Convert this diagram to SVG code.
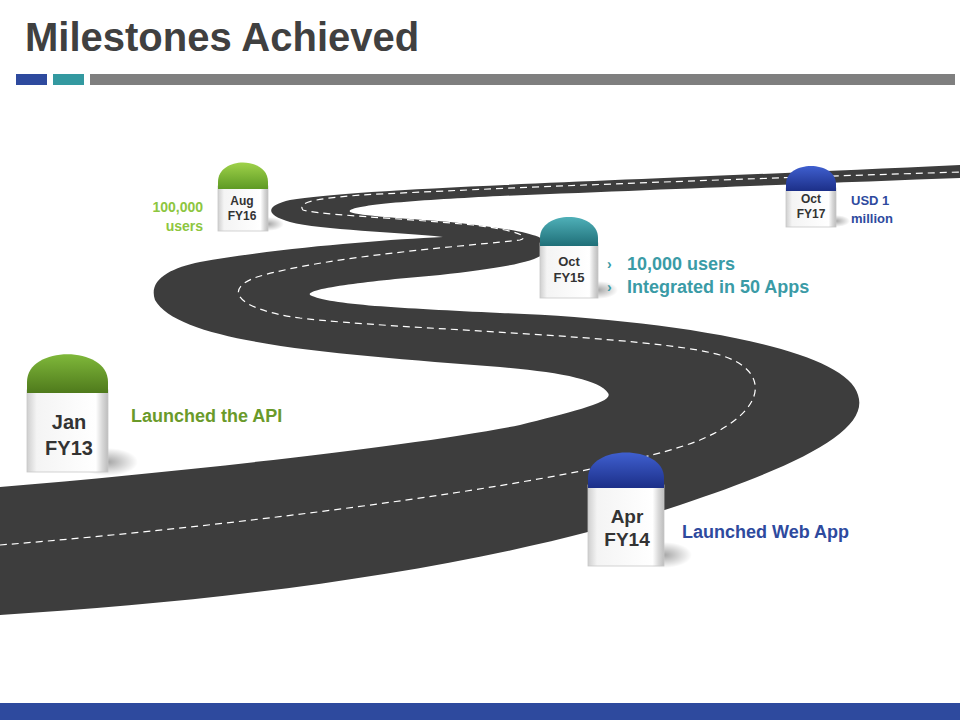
<svg xmlns="http://www.w3.org/2000/svg" width="960" height="720" viewBox="0 0 960 720">
<defs>
<linearGradient id="body" x1="0" y1="0" x2="1" y2="0">
<stop offset="0" stop-color="#cfcfcf"/><stop offset="0.12" stop-color="#f4f4f4"/><stop offset="0.85" stop-color="#ffffff"/><stop offset="0.93" stop-color="#d8d8d8"/><stop offset="1" stop-color="#bdbdbd"/>
</linearGradient>
<linearGradient id="bodyv" x1="0" y1="0" x2="0" y2="1">
<stop offset="0" stop-color="#fff" stop-opacity="0"/><stop offset="1" stop-color="#ccc" stop-opacity="0.5"/>
</linearGradient>
<linearGradient id="green" x1="0" y1="0" x2="0" y2="1"><stop offset="0" stop-color="#7fb83a"/><stop offset="1" stop-color="#4f7a1c"/></linearGradient>
<linearGradient id="lgreen" x1="0" y1="0" x2="0" y2="1"><stop offset="0" stop-color="#9fd24a"/><stop offset="1" stop-color="#5e9a24"/></linearGradient>
<linearGradient id="teal" x1="0" y1="0" x2="0" y2="1"><stop offset="0" stop-color="#4fb0b8"/><stop offset="1" stop-color="#1f6f78"/></linearGradient>
<linearGradient id="blue" x1="0" y1="0" x2="0" y2="1"><stop offset="0" stop-color="#3f5fcf"/><stop offset="1" stop-color="#1c2f88"/></linearGradient>
<radialGradient id="shadow"><stop offset="0" stop-color="#000" stop-opacity="0.35"/><stop offset="1" stop-color="#000" stop-opacity="0"/></radialGradient>
</defs>
<style>
.t{font-family:"Liberation Sans",Arial,sans-serif;font-weight:bold}
.ms{fill:#333;text-anchor:middle}
.b{fill:url(#body);stroke:#c8c8c8;stroke-width:0.8}
</style>
<rect width="960" height="720" fill="#fff"/>
<text class="t" x="25" y="51" font-size="40" fill="#404040">Milestones Achieved</text>
<rect x="16" y="74" width="31" height="11" fill="#2e4a9e"/>
<rect x="53" y="74" width="31" height="11" fill="#3399a0"/>
<rect x="90" y="74" width="865" height="11" fill="#7f7f7f"/>
<rect x="0" y="703" width="960" height="17" fill="#2e4a9e"/>

<g id="road">
<path fill="#3d3d3d" d="M0,487 C200,470 420,445 520,425 C570,412 615,402 608,393 C600,380 560,372 500,367 C350,355 180,345 155,300 C148,280 170,268 200,262 C280,248 380,240 443,237 C400,232 320,230 290,222 C262,214 268,205 290,200 C360,188 600,182 960,165 L960,178 C850,182 700,188 500,196 C420,200 345,205 350,212 C360,216 400,218 450,222 C520,230 550,235 548,248 C545,262 500,268 440,275 C380,280 305,288 310,295 C330,305 400,308 500,313 C650,318 845,345 858,395 C870,430 800,465 680,505 C500,565 250,600 0,615 Z"/>
<path fill="none" stroke="#fff" stroke-width="1.2" stroke-dasharray="7,5" d="M0,545 C250,525 600,480 700,440 C770,410 770,370 720,355 C650,335 400,330 300,318 C240,310 220,290 257,277 C330,255 480,245 520,240 C535,235 500,228 473,225 C400,218 320,215 303,210 C295,200 330,198 360,195 C500,188 700,180 960,172"/>
</g>

<g id="m-jan">
<ellipse cx="108" cy="462" rx="30" ry="14" fill="url(#shadow)"/>
<rect class="b" x="27" y="390" width="81" height="82"/>
<path d="M27,393 V382 C27,345 108,345 108,382 V393 Z" fill="url(#green)"/>
<text class="t ms" x="69" y="429" font-size="20">Jan</text>
<text class="t ms" x="69" y="455" font-size="20">FY13</text>
</g>
<text class="t" x="131" y="422" font-size="18" fill="#6a9a2a">Launched the API</text>

<g id="m-apr">
<ellipse cx="664" cy="555" rx="28" ry="13" fill="url(#shadow)"/>
<rect class="b" x="588" y="485" width="76" height="81"/>
<path d="M588,488 V478 C588,444 664,444 664,478 V488 Z" fill="url(#blue)"/>
<text class="t ms" x="627" y="523" font-size="19">Apr</text>
<text class="t ms" x="627" y="546" font-size="19">FY14</text>
</g>
<text class="t" x="682" y="538" font-size="18" fill="#2e4a9e">Launched Web App</text>

<g id="m-oct15">
<ellipse cx="598" cy="290" rx="20" ry="9" fill="url(#shadow)"/>
<rect class="b" x="540" y="243" width="58" height="55"/>
<path d="M540,246 V238 C540,210 598,210 598,238 V246 Z" fill="url(#teal)"/>
<text class="t ms" x="569" y="266" font-size="13">Oct</text>
<text class="t ms" x="569" y="282" font-size="13">FY15</text>
</g>
<g id="oct15-text" class="t" font-size="18" fill="#3a9ba6">
<text x="607" y="269" font-size="14">›</text><text x="627" y="270">10,000 users</text>
<text x="607" y="292" font-size="14">›</text><text x="627" y="293">Integrated in 50 Apps</text>
</g>

<g id="m-aug">
<ellipse cx="268" cy="224" rx="16" ry="7" fill="url(#shadow)"/>
<rect class="b" x="218" y="186" width="50" height="45"/>
<path d="M218,189 V182 C218,156 268,156 268,182 V189 Z" fill="url(#lgreen)"/>
<text class="t ms" x="242" y="205" font-size="12">Aug</text>
<text class="t ms" x="242" y="220" font-size="12">FY16</text>
</g>
<text class="t" x="203" y="212" font-size="14" fill="#8dc63f" text-anchor="end">100,000</text>
<text class="t" x="203" y="231" font-size="14" fill="#8dc63f" text-anchor="end">users</text>

<g id="m-oct17">
<ellipse cx="836" cy="221" rx="14" ry="6" fill="url(#shadow)"/>
<rect class="b" x="786" y="188" width="50" height="39"/>
<path d="M786,191 V184 C786,160 836,160 836,184 V191 Z" fill="url(#blue)"/>
<text class="t ms" x="811" y="203" font-size="12">Oct</text>
<text class="t ms" x="811" y="218" font-size="12">FY17</text>
</g>
<text class="t" x="851" y="205" font-size="13" fill="#2e4a9e">USD 1</text>
<text class="t" x="851" y="223" font-size="13" fill="#2e4a9e">million</text>
</svg>
